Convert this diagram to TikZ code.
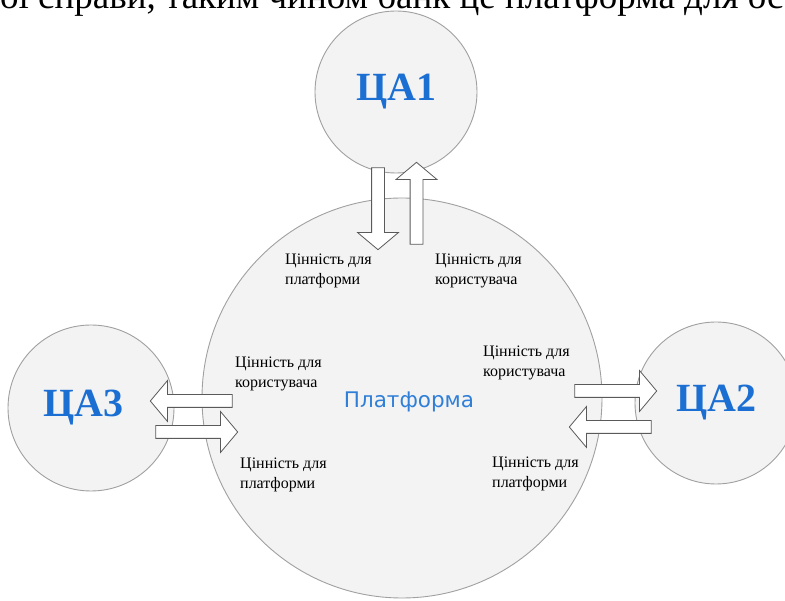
\documentclass[tikz,border=0pt]{standalone}
\usepackage{fontspec}
\setmainfont{Liberation Serif}
\newfontfamily\platfont{DejaVu Sans}
\usetikzlibrary{shapes.arrows}
\definecolor{circfill}{HTML}{F3F3F3}
\definecolor{circline}{HTML}{A0A0A0}
\definecolor{tablue}{HTML}{1C6FD2}
\definecolor{platblue}{HTML}{2F7FD8}
\definecolor{arrline}{HTML}{5A5A5A}

\begin{document}
\begin{tikzpicture}[x=1pt, y=-1pt,
  ta/.style={circle, draw=circline, fill=circfill, line width=0.9pt, inner sep=0pt,
             minimum size=#1},
  talbl/.style={inner sep=0pt, text=tablue, font=\fontsize{40}{40}\selectfont\bfseries},
  pf/.style={circle, draw=circline, fill=circfill, line width=0.9pt, inner sep=0pt,
             minimum size=400pt},
  pflbl/.style={text=platblue, inner sep=0pt, font=\platfont\fontsize{21.5}{21.5}\selectfont},
  blk/.style={single arrow, draw=arrline, fill=white, line width=0.8pt,
              minimum height=82pt, inner xsep=0pt, inner ysep=6pt,
              single arrow head extend=14pt, single arrow tip angle=100},
  lbl/.style={anchor=north west, inner sep=0pt, align=left,
              font=\fontsize{16}{20}\selectfont},
]
\useasboundingbox (0,0) rectangle (785,601);
\node[anchor=base west, inner sep=0pt, font=\fontsize{37}{37}\selectfont] (pagetext)
  at (0,8.5) {ої справи, таким чином банк це платформа для ос};
% target audiences and the platform
\node[ta=162pt] (ca1) at (396,92) {};
\node[ta=162pt] (ca2) at (716,403) {};
\node[ta=166pt] (ca3) at (91,408) {};
\node[pf] (pf) at (402,398) {};
\node[talbl] (ca1text) at (ca1) {ЦА1};
\node[talbl] (ca2text) at (ca2) {ЦА2};
\node[talbl, xshift=-8pt] (ca3text) at (ca3) {ЦА3};
\node[pflbl] (pftext) at (409,402) {Платформа};
% value flows
\node[blk, rotate=-90] (dn1) at (378,206) {};
\node[blk, rotate=90] (up1) at (416.5,206) {};
\node[blk, rotate=180] (lf3) at (194,401) {};
\node[blk] (rt3) at (194,432) {};
\node[blk] (rt2) at (613,391) {};
\node[blk, rotate=180] (lf2) at (613,427) {};
\node[lbl] (v1p) at (285,254) {Цінність для\\платформи};
\node[lbl] (v1k) at (435,254) {Цінність для\\користувача};
\node[lbl] (v3k) at (235,357) {Цінність для\\користувача};
\node[lbl] (v3p) at (240,458) {Цінність для\\платформи};
\node[lbl] (v2k) at (483,346) {Цінність для\\користувача};
\node[lbl] (v2p) at (492,457) {Цінність для\\платформи};
\end{tikzpicture}
\end{document}
